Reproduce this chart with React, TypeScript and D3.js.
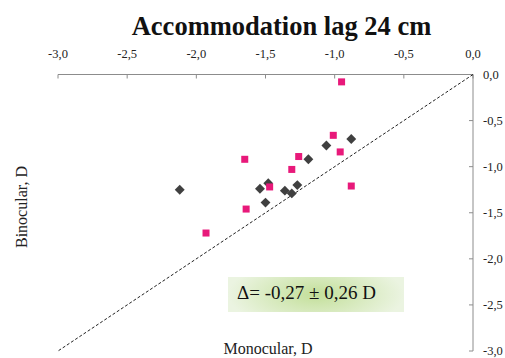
import React from 'react';
import * as d3 from 'd3';

// Monocular (x) vs binocular (y) accommodation lag, D
const squaresX = [-0.95, -1.01, -0.96, -0.88, -1.26, -1.31, -1.65, -1.47, -1.64, -1.93];
const squaresY = [-0.08, -0.66, -0.84, -1.21, -0.89, -1.03, -0.92, -1.22, -1.46, -1.72];
const diamondsX = [-0.88, -1.06, -1.19, -1.27, -1.31, -1.36, -1.48, -1.54, -1.5, -2.12];
const diamondsY = [-0.7, -0.77, -0.92, -1.2, -1.29, -1.26, -1.18, -1.24, -1.39, -1.25];
const ticks = [-3.0, -2.5, -2.0, -1.5, -1.0, -0.5, 0.0];

const width = 505;
const height = 358;
const serif = '"Liberation Serif", "Times New Roman", serif';

const fmt = (v: number) => v.toFixed(1).replace('.', ',');

const App = () => {
  const x = d3.scaleLinear().domain([-3, 0]).range([58, 473]);
  const y = d3.scaleLinear().domain([0, -3]).range([74.5, 351]);

  const line = d3.line<number>().x((d) => x(d)).y((d) => y(d));

  return (
    <svg
      width={width}
      height={height}
      style={{ position: 'absolute', left: 0, top: 0, background: '#fff' }}
    >
      <defs>
        <radialGradient id="boxGrad" cx="0.5" cy="0.5" r="0.5" gradientTransform="translate(0 -0.5) scale(1 2)">
          <stop offset="0%" stopColor="#c3df9a" />
          <stop offset="100%" stopColor="#ebf4e1" />
        </radialGradient>
      </defs>

      <text
        x={281.5}
        y={35}
        textAnchor="middle"
        fontFamily={serif}
        fontWeight="bold"
        fontSize={26.5}
        fill="#111"
      >
        Accommodation lag 24 cm
      </text>

      {/* top axis */}
      <line x1={x(-3)} x2={x(0)} y1={y(0)} y2={y(0)} stroke="#8c8c8c" strokeWidth={1} />
      {ticks.map((t) => (
        <g key={'tx' + t}>
          <line x1={x(t)} x2={x(t)} y1={y(0)} y2={y(0) + 4} stroke="#8c8c8c" />
          <text x={x(t)} y={58} textAnchor="middle" fontFamily={serif} fontSize={12.5} fill="#222">
            {fmt(t)}
          </text>
        </g>
      ))}

      {/* right axis */}
      <line x1={x(0)} x2={x(0)} y1={y(0)} y2={y(-3)} stroke="#8c8c8c" strokeWidth={1} />
      {ticks.map((t) => (
        <g key={'ty' + t}>
          <line x1={x(0) - 4} x2={x(0)} y1={y(t)} y2={y(t)} stroke="#8c8c8c" />
          <text x={483} y={y(t) + 4} fontFamily={serif} fontSize={12.5} fill="#222">
            {fmt(t)}
          </text>
        </g>
      ))}

      {/* identity line */}
      <path d={line([0, -3]) || ''} stroke="#222" strokeWidth={1} strokeDasharray="3,2" fill="none" />

      {/* annotation box */}
      <rect x={228} y={277} width={176} height={35} fill="url(#boxGrad)" />
      <text x={237} y={299} fontFamily={serif} fontSize={19} fill="#111">
        Δ= -0,27 ± 0,26 D
      </text>

      {diamondsX.map((d, i) => (
        <rect
          key={'d' + i}
          x={x(d) - 3.5}
          y={y(diamondsY[i]) - 3.5}
          width={7}
          height={7}
          fill="#404040"
          transform={`rotate(45 ${x(d)} ${y(diamondsY[i])})`}
        />
      ))}
      {squaresX.map((d, i) => (
        <rect
          key={'s' + i}
          x={x(d) - 3.5}
          y={y(squaresY[i]) - 3.5}
          width={7}
          height={7}
          fill="#e8197a"
        />
      ))}

      <text
        transform={`translate(27, 207) rotate(-90)`}
        textAnchor="middle"
        fontFamily={serif}
        fontSize={16}
        fill="#222"
      >
        Binocular, D
      </text>
      <text x={268} y={354} textAnchor="middle" fontFamily={serif} fontSize={16} fill="#222">
        Monocular, D
      </text>
    </svg>
  );
};

export default App;
